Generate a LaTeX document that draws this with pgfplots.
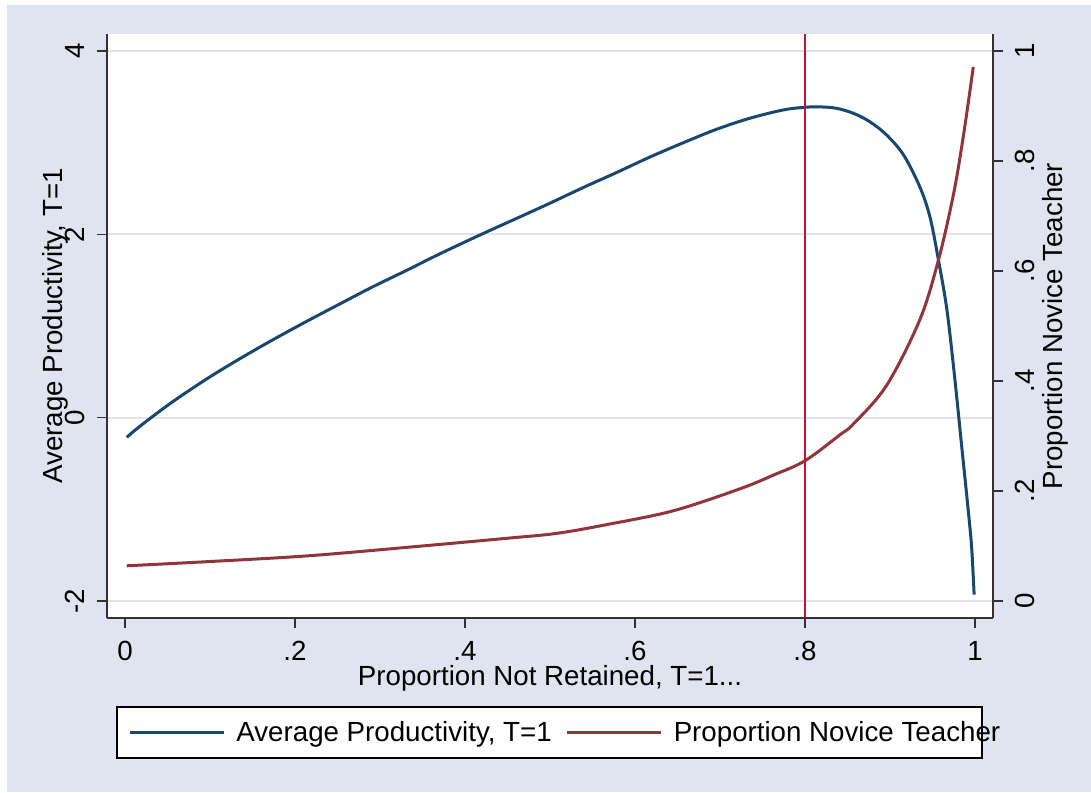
\documentclass[border=0pt]{standalone}
\usepackage{fontspec}
\setmainfont{Liberation Sans}
\usepackage{pgfplots}
\pgfplotsset{compat=1.18}
\usepackage{pgfplotstable}
\definecolor{bgc}{RGB}{223,228,240}
\definecolor{gridc}{RGB}{222,227,239}
\definecolor{navyc}{RGB}{26,71,111}
\definecolor{maroonc}{RGB}{144,53,59}
\definecolor{vlinec}{RGB}{204,16,60}
\definecolor{axc}{RGB}{50,50,50}

\pgfplotstableread{
x y
0.002 -0.215
0.012 -0.135
0.030 -0.005
0.057 0.18
0.0965 0.425
0.136 0.648
0.175 0.855
0.214 1.052
0.253 1.242
0.292 1.43
0.332 1.61
0.371 1.79
0.4216 2.01
0.461 2.175
0.5 2.34
0.539 2.51
0.578 2.673
0.618 2.845
0.657 3.0
0.696 3.146
0.735 3.266
0.774 3.356
0.8 3.386
0.818 3.39
0.837 3.375
0.857 3.32
0.876 3.23
0.896 3.084
0.916 2.865
0.935 2.52
0.947 2.19
0.957 1.72
0.967 1.175
0.976 0.447
0.984 -0.28
0.992 -1.007
0.996 -1.41
0.999 -1.93
}\prodtable

\pgfplotstableread{
x y
0.002 0.064
0.0965 0.0715
0.214 0.082
0.332 0.0976
0.449 0.114
0.508 0.123
0.567 0.139
0.645 0.164
0.7235 0.204
0.763 0.229
0.8 0.255
0.841 0.302
0.857 0.322
0.896 0.392
0.935 0.511
0.957 0.62
0.9745 0.738
0.986 0.842
0.998 0.971
}\novtable

\begin{document}
\begin{tikzpicture}[x=1pt,y=1pt]
\fill[white] (0,0) rectangle (545.5,396);
\fill[bgc] (3.5,0) rectangle (545.5,393.5);
\begin{axis}[
  at={(53.5pt,87pt)}, anchor=south west,
  width=443pt, height=292pt, scale only axis,
  font=\fontsize{13.85}{16}\selectfont,
  xmin=-0.0212, xmax=1.0212, ymin=-2.1855, ymax=4.1855,
  axis x line*=bottom, axis y line*=left,
  axis line style={-, axc, line width=0.75pt},
  axis background/.style={fill=white},
  tick align=outside, major tick length=5pt,
  tick style={axc, line width=0.75pt},
  xtick={0,0.2,0.4,0.6,0.8,1},
  xticklabels={0,.2,.4,.6,.8,1},
  ytick={-2,0,2,4},
  yticklabels={-2,0,2,4},
  ymajorgrids=true,
  major grid style={gridc, line width=1pt},
  xticklabel style={anchor=north, inner sep=0pt},
  xticklabel shift=6.5pt,
  yticklabel style={rotate=90, anchor=south, inner sep=0pt},
  yticklabel shift=6pt,
  xlabel={Proportion Not Retained, T=1...},
  xlabel style={at={(rel axis cs:0.5,-0.11473)}, anchor=base},
  ylabel={Average Productivity, T=1},
  ylabel style={at={(rel axis cs:-0.04966,0.5)}, anchor=base, rotate=0},
  clip=false,
  legend columns=2,
  legend style={at={(rel axis cs:0.0237,-0.196)}, anchor=west, draw=none, fill=none,
    inner sep=0pt, font=\fontsize{13.85}{16}\selectfont,
    /tikz/every even column/.append style={column sep=5pt}},
  legend image code/.code={\draw[#1] (0pt,0pt) -- (47pt,0pt); \path (50.5pt,0pt);},
]
\draw[black, fill=white, line width=0.75pt] (rel axis cs:0.0113,-0.1524) rectangle (rel axis cs:0.9876,-0.2397);
\addplot[navyc, line width=1.5pt, smooth, tension=0.55] table {\prodtable};
\addlegendentry{Average Productivity, T=1}
\addlegendimage{maroonc, line width=1.5pt}
\addlegendentry{Proportion Novice Teacher}
\end{axis}
\begin{axis}[
  at={(53.5pt,87pt)}, anchor=south west,
  width=443pt, height=292pt, scale only axis,
  font=\fontsize{13.85}{16}\selectfont,
  xmin=-0.0212, xmax=1.0212, ymin=-0.0309, ymax=1.0309,
  axis x line=none, axis y line*=right,
  axis line style={-, axc, line width=0.75pt},
  tick align=outside, major tick length=5pt,
  tick style={axc, line width=0.75pt},
  ytick={0,0.2,0.4,0.6,0.8,1},
  yticklabels={0,.2,.4,.6,.8,1},
  yticklabel style={rotate=90, anchor=north, inner sep=0pt},
  yticklabel shift=6pt,
  ylabel={Proportion Novice Teacher},
  ylabel style={at={(rel axis cs:1.07788,0.5)}, anchor=base, rotate=0},
]
\addplot[maroonc, line width=1.5pt, smooth, tension=0.55] table {\novtable};
\addplot[vlinec, line width=1.2pt] coordinates {(0.8,-0.0309) (0.8,1.0309)};
\end{axis}
\pgfresetboundingbox
\useasboundingbox (0,0) rectangle (545.5,396);
\end{tikzpicture}
\end{document}
